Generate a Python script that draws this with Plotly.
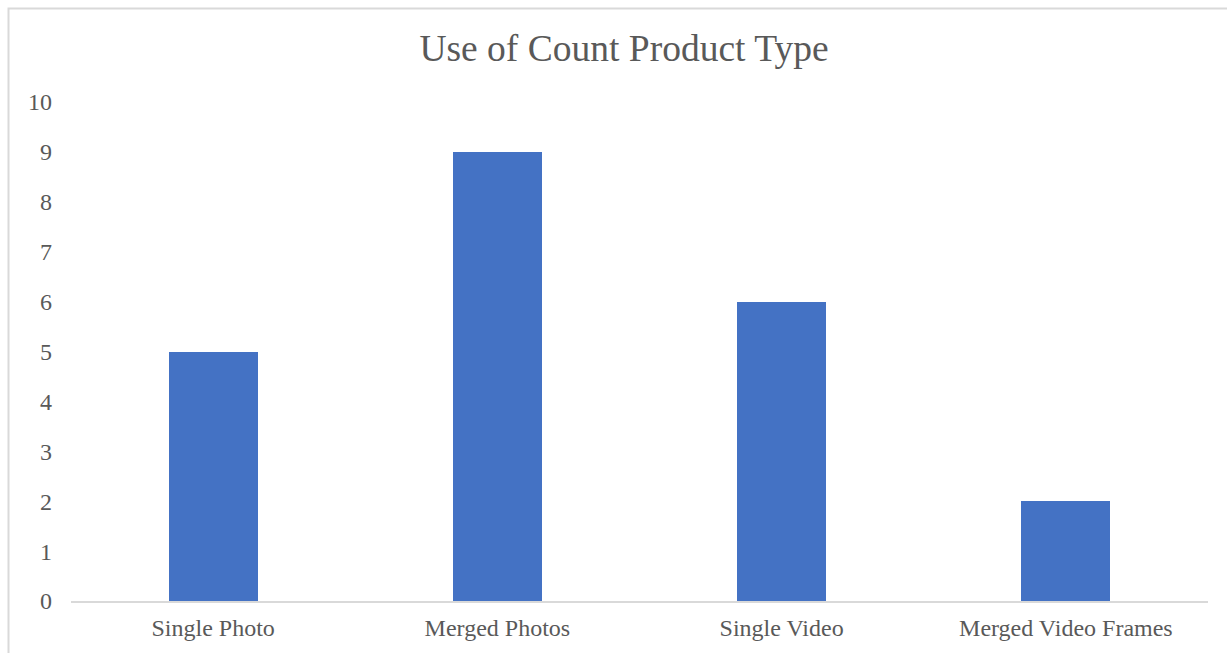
import plotly.graph_objects as go

# Chart data
categories = ["Single Photo", "Merged Photos", "Single Video", "Merged Video Frames"]
counts = [5, 9, 6, 2]
y_ticks = list(range(0, 11))

W, H = 1227, 653
M_L, M_R, M_T, M_B = 71, 19, 102, 52
plot_w = W - M_L - M_R
plot_h = H - M_T - M_B

TEXT = "#595959"
LINE = "#D9D9D9"
BAR = "#4472C4"
FONT = "Liberation Serif, Times New Roman, serif"

fig = go.Figure(
    go.Bar(
        x=categories,
        y=counts,
        marker=dict(color=BAR, line=dict(width=0)),
        width=0.313,
    )
)


def px_x(p):
    return (p - M_L) / plot_w


def px_y(p):
    return (H - M_B - p) / plot_h


# Outer chart frame (extends past the right and bottom edges)
fig.add_shape(
    type="rect", xref="paper", yref="paper",
    x0=px_x(8.5), x1=px_x(W + 5), y0=px_y(H + 5), y1=px_y(8.5),
    line=dict(color=LINE, width=2), fillcolor="rgba(0,0,0,0)", layer="below",
)

fig.update_layout(
    width=W,
    height=H,
    margin=dict(l=M_L, r=M_R, t=M_T, b=M_B, autoexpand=False),
    paper_bgcolor="white",
    plot_bgcolor="white",
    showlegend=False,
    font=dict(family=FONT, color=TEXT),
    title=dict(
        text="Use of Count Product Type",
        font=dict(family=FONT, size=37.5, color=TEXT),
        x=624 / W, xanchor="center", xref="container",
        y=1 - 48 / H, yanchor="middle", yref="container",
    ),
    bargap=0,
)

fig.update_xaxes(
    showline=True, linecolor=LINE, linewidth=2,
    showgrid=False, zeroline=False, ticks="",
    tickfont=dict(family=FONT, size=24, color=TEXT),
    ticklabelstandoff=4,
)
fig.update_yaxes(
    range=[0, 10], tickvals=y_ticks,
    showline=False, showgrid=False, zeroline=False, ticks="",
    tickfont=dict(family=FONT, size=24, color=TEXT),
    ticklabelstandoff=18,
)

fig.write_html("out.html")
